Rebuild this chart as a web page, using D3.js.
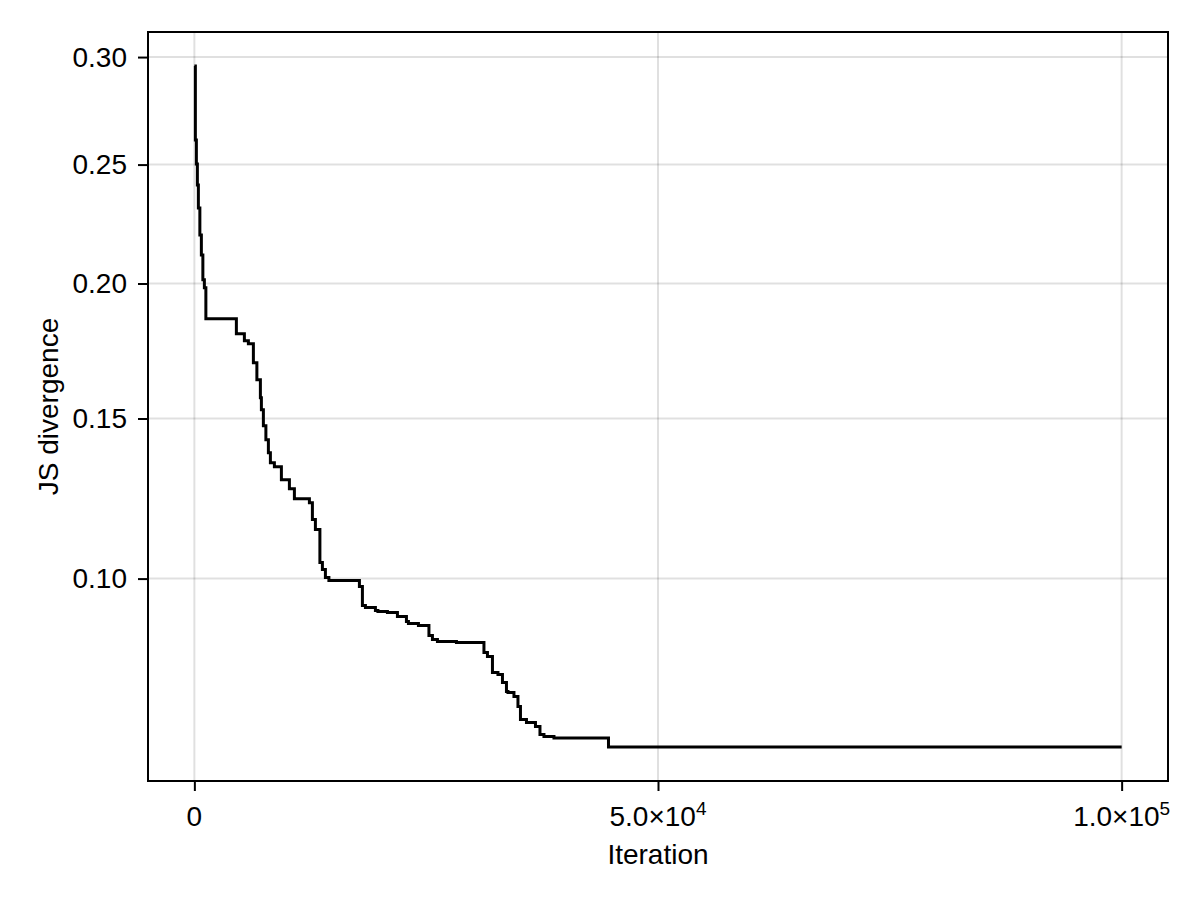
<!DOCTYPE html>
<html>
<head>
<meta charset="utf-8">
<script src="https://cdn.jsdelivr.net/npm/d3@7"></script>
<style>
  html, body { margin: 0; padding: 0; background: #ffffff; }
  svg { display: block; }
  text { font-family: "Liberation Sans", Arial, Helvetica, sans-serif; fill: #000; }
</style>
</head>
<body>
<svg id="chart" width="1200" height="900"></svg>
<script>
// ---- data (step function: value holds from iteration until next point) ----
const iterations = [
  0, 108, 216, 324, 432, 593, 755, 917, 1079, 1241,
  4531, 5394, 5825, 6365, 6742, 7120, 7228, 7443, 7713, 7983,
  8199, 8630, 9385, 10248, 10788, 12406, 12729, 13053, 13538, 13808,
  14132, 14509, 17799, 18123, 18447, 19525, 19795, 20820, 21899, 22870,
  23085, 24164, 25297, 25674, 26214, 28263, 31230, 31607, 32147, 32740,
  33226, 33657, 33819, 34466, 34898, 35167, 35815, 36785, 37271, 37702,
  38781, 44660, 100000
];
const jsDivergence = [
  0.29565, 0.26104, 0.25027, 0.24104, 0.23113, 0.21976, 0.21152, 0.20145, 0.19828, 0.18622,
  0.18052, 0.17790, 0.17678, 0.16976, 0.16360, 0.15721, 0.15302, 0.14752, 0.14279, 0.13847,
  0.13518, 0.13388, 0.12969, 0.12684, 0.12370, 0.12245, 0.11724, 0.11422, 0.10454, 0.10254,
  0.10028, 0.09944, 0.09777, 0.09257, 0.09203, 0.09123, 0.09096, 0.09069, 0.08963, 0.08831,
  0.08778, 0.08725, 0.08465, 0.08362, 0.08311, 0.08286, 0.08032, 0.07932, 0.07537, 0.07489,
  0.07296, 0.07082, 0.07058, 0.06964, 0.06732, 0.06436, 0.06369, 0.06280, 0.06103, 0.06059,
  0.06027, 0.05832, 0.05832
];
const xTicks = [0, 50000, 100000];
const xTickLabels = [["0", ""], ["5.0×10", "4"], ["1.0×10", "5"]];
const yTicks = [0.10, 0.15, 0.20, 0.25, 0.30];
const yTickLabels = ["0.10", "0.15", "0.20", "0.25", "0.30"];
const xLabel = "Iteration";
const yLabel = "JS divergence";

// ---- layout ----
const svg = d3.select("#chart");
const plot = { left: 148, right: 1168, top: 32, bottom: 781 };
const fontSize = 28;

// x domain with 5% padding
const xMin = d3.min(iterations), xMax = d3.max(iterations);
const xPad = (xMax - xMin) * 0.05;
const x = d3.scaleLinear().domain([xMin - xPad, xMax + xPad]).range([plot.left, plot.right]);

// y: sqrt scale, 5% padding in transformed space
const sMin = Math.sqrt(d3.min(jsDivergence)), sMax = Math.sqrt(d3.max(jsDivergence));
const sPad = (sMax - sMin) * 0.05;
const y = d3.scaleSqrt()
  .domain([Math.pow(sMin - sPad, 2), Math.pow(sMax + sPad, 2)])
  .range([plot.bottom, plot.top]);

const data = iterations.map((d, i) => ({ x: d, y: jsDivergence[i] }));

// gridlines
const grid = svg.append("g").attr("stroke", "#000").attr("stroke-opacity", 0.12).attr("stroke-width", 2);
grid.selectAll(".gx").data(xTicks).enter().append("line")
  .attr("x1", d => x(d)).attr("x2", d => x(d))
  .attr("y1", plot.top).attr("y2", plot.bottom);
grid.selectAll(".gy").data(yTicks).enter().append("line")
  .attr("x1", plot.left).attr("x2", plot.right)
  .attr("y1", d => y(d)).attr("y2", d => y(d));

// line
const line = d3.line().x(d => x(d.x)).y(d => y(d.y)).curve(d3.curveStepAfter);
svg.append("path").datum(data)
  .attr("d", line)
  .attr("fill", "none")
  .attr("stroke", "#000")
  .attr("stroke-width", 3)
  .attr("stroke-linejoin", "miter");

// axes frame
svg.append("rect")
  .attr("x", plot.left).attr("y", plot.top)
  .attr("width", plot.right - plot.left).attr("height", plot.bottom - plot.top)
  .attr("fill", "none").attr("stroke", "#000").attr("stroke-width", 2);

// y axis ticks
const yAxis = d3.axisLeft(y).tickValues(yTicks).tickSize(10).tickPadding(11)
  .tickFormat((d, i) => yTickLabels[i]);
const gy = svg.append("g").attr("transform", `translate(${plot.left},0)`).call(yAxis);
gy.select(".domain").remove();
gy.selectAll(".tick line").attr("stroke", "#000").attr("stroke-width", 2);
gy.selectAll(".tick text").attr("font-size", fontSize)
  .attr("font-family", "Liberation Sans, Arial, sans-serif").attr("fill", "#000");

// x axis ticks
const xAxis = d3.axisBottom(x).tickValues(xTicks).tickSize(10).tickFormat(() => "");
const gx = svg.append("g").attr("transform", `translate(0,${plot.bottom})`).call(xAxis);
gx.select(".domain").remove();
gx.selectAll(".tick line").attr("stroke", "#000").attr("stroke-width", 2);
gx.selectAll(".tick text").remove();
const xl = svg.append("g");
xTicks.forEach((t, i) => {
  const txt = xl.append("text")
    .attr("x", x(t)).attr("y", 826)
    .attr("text-anchor", "middle")
    .attr("font-size", fontSize);
  txt.append("tspan").text(xTickLabels[i][0]);
  if (xTickLabels[i][1]) {
    txt.append("tspan").attr("font-size", 19).attr("dy", -11).text(xTickLabels[i][1]);
  }
});

// axis labels
svg.append("text")
  .attr("x", (plot.left + plot.right) / 2).attr("y", 864)
  .attr("text-anchor", "middle").attr("font-size", fontSize)
  .text(xLabel);
svg.append("text")
  .attr("transform", `translate(58,${(plot.top + plot.bottom) / 2}) rotate(-90)`)
  .attr("text-anchor", "middle").attr("font-size", fontSize)
  .text(yLabel);
</script>
</body>
</html>
